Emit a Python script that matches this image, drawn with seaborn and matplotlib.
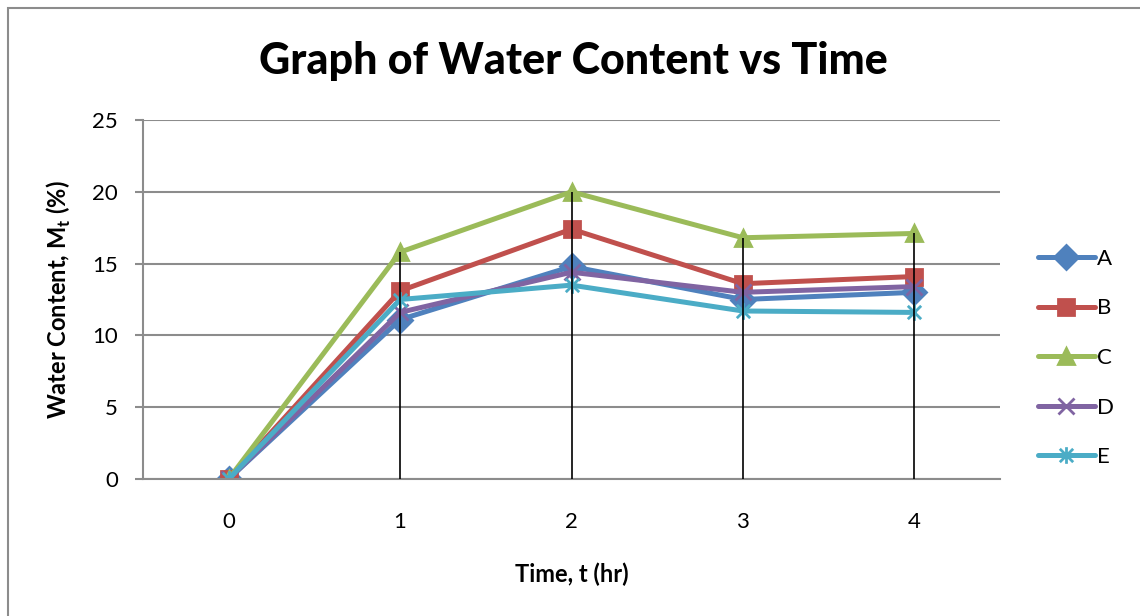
import matplotlib
matplotlib.use("Agg")
import matplotlib.pyplot as plt
import seaborn as sns
import pandas as pd
import numpy as np
from matplotlib.path import Path
from matplotlib.patches import Rectangle
from matplotlib.lines import Line2D

# ---- data ----
times = [0, 1, 2, 3, 4]
series_names = ["A", "B", "C", "D", "E"]
A = [0, 11.1, 14.8, 12.5, 13.0]
B = [0, 13.1, 17.4, 13.6, 14.1]
C = [0, 15.8, 20.0, 16.8, 17.1]
D = [0, 11.6, 14.4, 13.0, 13.4]
E = [0, 12.5, 13.5, 11.7, 11.6]
y_ticks = [0, 5, 10, 15, 20, 25]

colors = {"A": "#4F81BD", "B": "#C0504D", "C": "#9BBB59", "D": "#8064A2", "E": "#4BACC6"}

star = Path([(0, -1), (0, 1), (-0.8, -0.8), (0.8, 0.8), (-0.8, 0.8), (0.8, -0.8)],
            [Path.MOVETO, Path.LINETO, Path.MOVETO, Path.LINETO, Path.MOVETO, Path.LINETO])
markers = {"A": "D", "B": "s", "C": "^", "D": "x", "E": star}

values = {"A": A, "B": B, "C": C, "D": D, "E": E}
df = pd.DataFrame([(t, s, v) for s in series_names for t, v in zip(times, values[s])],
                  columns=["Time", "Series", "Value"])

sns.set_theme(style="white")
plt.rcParams["font.family"] = ["Lato", "DejaVu Sans"]
plt.rcParams["mathtext.fontset"] = "custom"
plt.rcParams["mathtext.rm"] = "Lato"
plt.rcParams["mathtext.bf"] = "Lato:bold"
plt.rcParams["text.color"] = "black"
plt.rcParams["axes.labelcolor"] = "black"

fig = plt.figure(figsize=(11.4, 6.16), dpi=100)
ax = fig.add_axes([143/1140, 1-479/616, (1000-143)/1140, (479-120)/616])

handles = []
for s in series_names:
    sub = df[df["Series"] == s]
    n0 = len(ax.lines)
    sns.lineplot(data=sub, x="Time", y="Value", color=colors[s], marker=markers[s],
                 ax=ax, linewidth=3.6, markersize=12, markeredgewidth=2.0,
                 markeredgecolor=colors[s], legend=False)
    ln = ax.lines[n0]
    ln.set_solid_capstyle("round")
    ln.set_solid_joinstyle("round")
    handles.append(Line2D([], [], color=colors[s], marker=markers[s], linewidth=3.6,
                          markersize=12, markeredgewidth=2.0, markeredgecolor=colors[s],
                          solid_capstyle="round"))

# drop lines
maxv = df.groupby("Time")["Value"].max()
ax.vlines(maxv.index, 0, maxv.values, colors="black", linewidth=1.2, zorder=5)

ax.set_xlim(-0.5, 4.5)
ax.set_ylim(0, 25)
ax.set_yticks(y_ticks)
ax.set_xticks(times)
ax.yaxis.grid(True, color="#8C8C8C", linewidth=1.5)
ax.xaxis.grid(False)
for s in ["top", "right"]:
    ax.spines[s].set_visible(False)
ax.spines["left"].set_color("#8C8C8C")
ax.spines["left"].set_linewidth(1.5)
ax.spines["bottom"].set_color("#8C8C8C")
ax.spines["bottom"].set_linewidth(1.5)
ax.tick_params(axis="y", which="both", left=True, length=6, width=1.5, color="#8C8C8C",
               labelsize=16, pad=12, labelcolor="black")
ax.tick_params(axis="x", bottom=False, labelsize=16, pad=18, labelcolor="black")
ax.set_xlabel("Time, t (hr)", fontsize=17, fontweight="bold", labelpad=22)
ax.set_ylabel(r"Water Content, M$_{\mathbf{t}}$ (%)", fontsize=17, fontweight="bold", labelpad=14)

fig.text(573/1140, 1-61/616, "Graph of Water Content vs Time", fontsize=31, fontweight="black",
         ha="center", va="center")

fig.legend(handles, series_names, loc="center left", bbox_to_anchor=(1029/1140, 1-358/616),
           frameon=False, fontsize=16, labelspacing=1.33, handlelength=2.57,
           handletextpad=0.1, borderaxespad=0)

fig.patches.append(Rectangle((8/1140, -0.2), 1.3, 0.2 + 1-8/616, transform=fig.transFigure,
                             fill=False, edgecolor="#8C8C8C", linewidth=1.5))

fig.savefig("out.png", dpi=100)
